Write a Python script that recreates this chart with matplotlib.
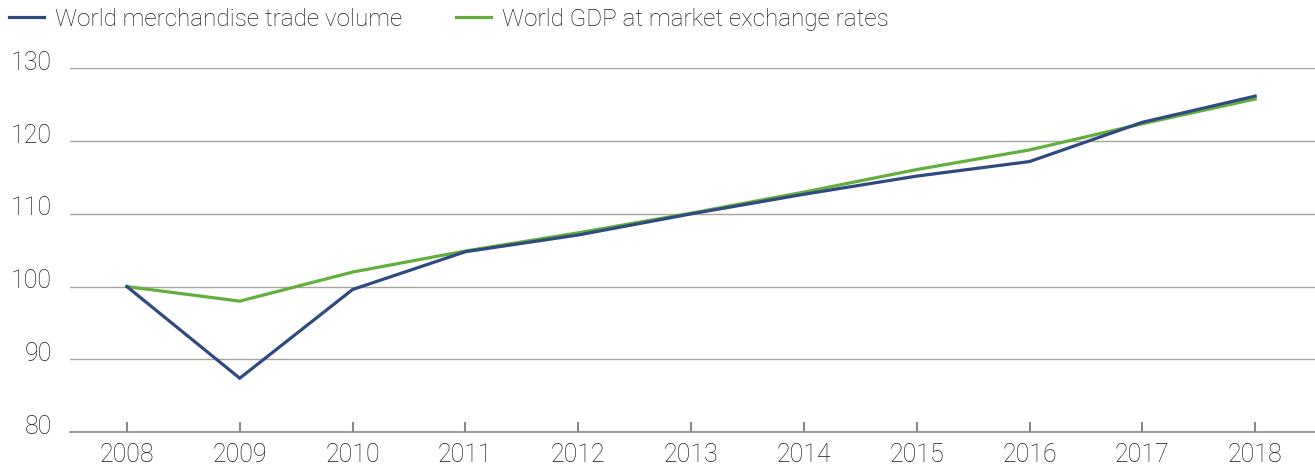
import matplotlib
matplotlib.use("Agg")
import matplotlib.pyplot as plt
from matplotlib.transforms import ScaledTranslation

years = [2008, 2009, 2010, 2011, 2012, 2013, 2014, 2015, 2016, 2017, 2018]
trade_volume = [100.0, 87.4, 99.6, 104.8, 107.1, 110.0, 112.7, 115.2, 117.2, 122.6, 126.2]
world_gdp = [100.0, 98.0, 102.0, 104.9, 107.4, 110.1, 113.0, 116.1, 118.8, 122.4, 125.8]
y_ticks = [80, 90, 100, 110, 120, 130]

plt.rcParams['font.family'] = ['Roboto', 'DejaVu Sans']

fig = plt.figure(figsize=(13.15, 4.72), dpi=100)
ax = fig.add_axes([0.0532, 0.0847, 0.9468, 0.7702])

blue = '#2f4a80'
green = '#62b03b'
ax.plot(years, world_gdp, color=green, lw=2.3, solid_joinstyle='miter',
        label='World GDP at market exchange rates', zorder=3)
ax.plot(years, trade_volume, color=blue, lw=2.3, solid_joinstyle='miter',
        label='World merchandise trade volume', zorder=4)

ax.set_xlim(years[0] - 0.505, years[-1] + 0.53)
ax.set_ylim(80, 130)
ax.set_xticks(years)
ax.set_xticklabels([str(y) for y in years])
ax.set_yticks(y_ticks)

ax.grid(axis='y', color='#a8a59f', lw=1.0)
ax.set_axisbelow(True)
for s in ['top', 'right', 'left']:
    ax.spines[s].set_visible(False)
ax.spines['bottom'].set_color('#8c8882')
ax.spines['bottom'].set_linewidth(1.2)

ax.tick_params(axis='x', direction='in', length=7, width=1.5, color='#8c8882',
               labelsize=18, labelcolor='#1a1a1a', pad=8)
ax.tick_params(axis='y', length=0, labelsize=18, labelcolor='#1a1a1a', pad=13)
for lab in ax.get_xticklabels() + ax.get_yticklabels():
    lab.set_fontweight('light')
off = ScaledTranslation(0, 8 / 100, fig.dpi_scale_trans)
for lab in ax.get_yticklabels():
    lab.set_transform(lab.get_transform() + off)

handles, labels = ax.get_legend_handles_labels()
leg = fig.legend(handles[::-1], labels[::-1], loc='upper left',
                 bbox_to_anchor=(9 / 1315, 1 - 8 / 472), ncol=2, frameon=False,
                 fontsize=17.5, handlelength=1.45, handletextpad=0.45,
                 columnspacing=2.2, borderpad=0, borderaxespad=0)
for t in leg.get_texts():
    t.set_fontweight('light')
    t.set_color('#1a1a1a')

fig.savefig('out.png', dpi=100)
